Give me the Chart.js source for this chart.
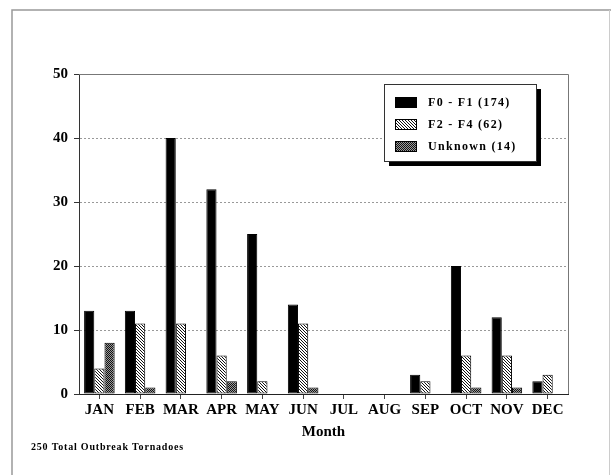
<!DOCTYPE html>
<html>
<head>
<meta charset="utf-8">
<script src="https://cdn.jsdelivr.net/npm/chart.js@4"></script>
<style>
  html, body { margin: 0; padding: 0; background: #fff; }
  #wrap { width: 612px; height: 475px; position: relative; }
</style>
</head>
<body>
<div id="wrap"><canvas id="myChart" width="612" height="475"></canvas></div>
<script>
// values
const months = ['JAN', 'FEB', 'MAR', 'APR', 'MAY', 'JUN', 'JUL', 'AUG', 'SEP', 'OCT', 'NOV', 'DEC'];
const f0f1 = [13, 13, 40, 32, 25, 14, 0, 0, 3, 20, 12, 2];
const f2f4 = [4, 11, 11, 6, 2, 11, 0, 0, 2, 6, 6, 3];
const unknown = [8, 1, 0, 2, 0, 1, 0, 0, 0, 1, 1, 0];
const seriesNames = ['F0 - F1 (174)', 'F2 - F4 (62)', 'Unknown (14)'];
const yTicks = [0, 10, 20, 30, 40, 50];

const serif = "'Liberation Serif', 'DejaVu Serif', serif";

// hatch fills
function hatch() {
    var c = document.createElement('canvas');
    c.width = 3; c.height = 3;
    var g = c.getContext('2d');
    g.fillStyle = '#fff';
    g.fillRect(0, 0, 3, 3);
    g.fillStyle = '#111';
    for (let i = 0; i < 3; i++) {
        g.fillRect(i, i, 1, 1);
    }
    return g.createPattern(c, 'repeat');
}

function checker() {
    var c = document.createElement('canvas');
    c.width = 2; c.height = 2;
    var g = c.getContext('2d');
    g.fillStyle = '#999';
    g.fillRect(0, 0, 2, 2);
    g.fillStyle = '#111';
    g.fillRect(0, 0, 1, 1);
    g.fillRect(1, 1, 1, 1);
    return g.createPattern(c, 'repeat');
}

const fills = ['#000', hatch(), checker()];

// frame, top/right plot border, legend box, footnote
const extras = {
    id: 'extras',
    beforeDatasetsDraw(chart) {
        const ctx = chart.ctx;
        const a = chart.chartArea;
        ctx.save();
        ctx.strokeStyle = '#777';
        ctx.lineWidth = 1;
        ctx.beginPath();
        ctx.moveTo(a.left, a.top + 0.5);
        ctx.lineTo(a.right + 0.5, a.top + 0.5);
        ctx.lineTo(a.right + 0.5, a.bottom);
        ctx.stroke();
        ctx.restore();
    },
    afterDraw(chart) {
        const ctx = chart.ctx;
        ctx.save();
        // page frame
        ctx.strokeStyle = '#999';
        ctx.lineWidth = 1.5;
        ctx.beginPath();
        ctx.moveTo(12, 475);
        ctx.lineTo(12, 10);
        ctx.lineTo(611, 10);
        ctx.stroke();
        ctx.strokeStyle = '#ccc';
        ctx.lineWidth = 1;
        ctx.beginPath();
        ctx.moveTo(609.5, 10);
        ctx.lineTo(609.5, 475);
        ctx.stroke();

        // legend
        const lx = 384, ly = 84, lw = 152, lh = 77;
        ctx.fillStyle = '#000';
        ctx.fillRect(lx + 5, ly + 5, lw, lh);
        ctx.fillStyle = '#fff';
        ctx.fillRect(lx, ly, lw, lh);
        ctx.strokeStyle = '#333';
        ctx.strokeRect(lx + 0.5, ly + 0.5, lw, lh);
        ctx.font = 'bold 12px ' + serif;
        ctx.letterSpacing = '1.3px';
        ctx.textBaseline = 'middle';
        chart.data.datasets.forEach(function (ds, i) {
            var cy = [102, 124, 146][i];
            ctx.fillStyle = ds.backgroundColor;
            ctx.fillRect(395, cy - 5, 22, 11);
            ctx.strokeStyle = '#000';
            ctx.strokeRect(395.5, cy - 4.5, 21, 10);
            ctx.fillStyle = '#000';
            ctx.fillText(ds.label, 428, cy + 1);
        });

        // footnote
        ctx.font = 'bold 10px ' + serif;
        ctx.letterSpacing = '0.8px';
        ctx.textBaseline = 'middle';
        ctx.fillText('250 Total Outbreak Tornadoes', 31, 447);
        ctx.restore();
    }
};

const ctx = document.getElementById('myChart');
const cht = new Chart(ctx, {
    type: 'bar',
    data: {
        labels: months,
        datasets: [f0f1, f2f4, unknown].map(function (d, i) {
            return {
                label: seriesNames[i],
                data: d,
                backgroundColor: fills[i],
                borderColor: '#000',
                borderWidth: 1,
                borderSkipped: false,
                categoryPercentage: 0.75,
                barPercentage: 1.0
            };
        })
    },
    options: {
        responsive: false,
        animation: false,
        layout: { padding: { left: 0, top: 74, right: 44, bottom: 34 } },
        plugins: {
            legend: { display: false },
            tooltip: { enabled: false }
        },
        scales: {
            x: {
                grid: {
                    offset: false,
                    drawOnChartArea: false,
                    drawTicks: true,
                    tickLength: 5,
                    color: '#444'
                },
                border: { display: true, color: '#222', width: 1 },
                ticks: {
                    color: '#000',
                    padding: 2,
                    maxRotation: 0,
                    autoSkip: false,
                    font: { family: serif, size: 15, weight: 'bold' }
                },
                title: {
                    display: true,
                    text: 'Month',
                    color: '#000',
                    padding: { top: 0, bottom: 0 },
                    font: { family: serif, size: 15, weight: 'bold' }
                },
                afterFit(scale) { scale.height = 47; }
            },
            y: {
                min: 0,
                max: 50,
                afterBuildTicks(scale) {
                    scale.ticks = yTicks.map(function (v) { return { value: v }; });
                },
                grid: {
                    color: '#999',
                    tickColor: '#333',
                    tickLength: 5,
                    tickBorderDash: []
                },
                border: { display: true, color: '#333', width: 1, dash: [2, 2] },
                ticks: {
                    color: '#000',
                    padding: 6,
                    font: { family: serif, size: 15, weight: 'bold' }
                },
                afterFit(scale) { scale.width = 79; }
            }
        }
    },
    plugins: [extras]
});
</script>
</body>
</html>
